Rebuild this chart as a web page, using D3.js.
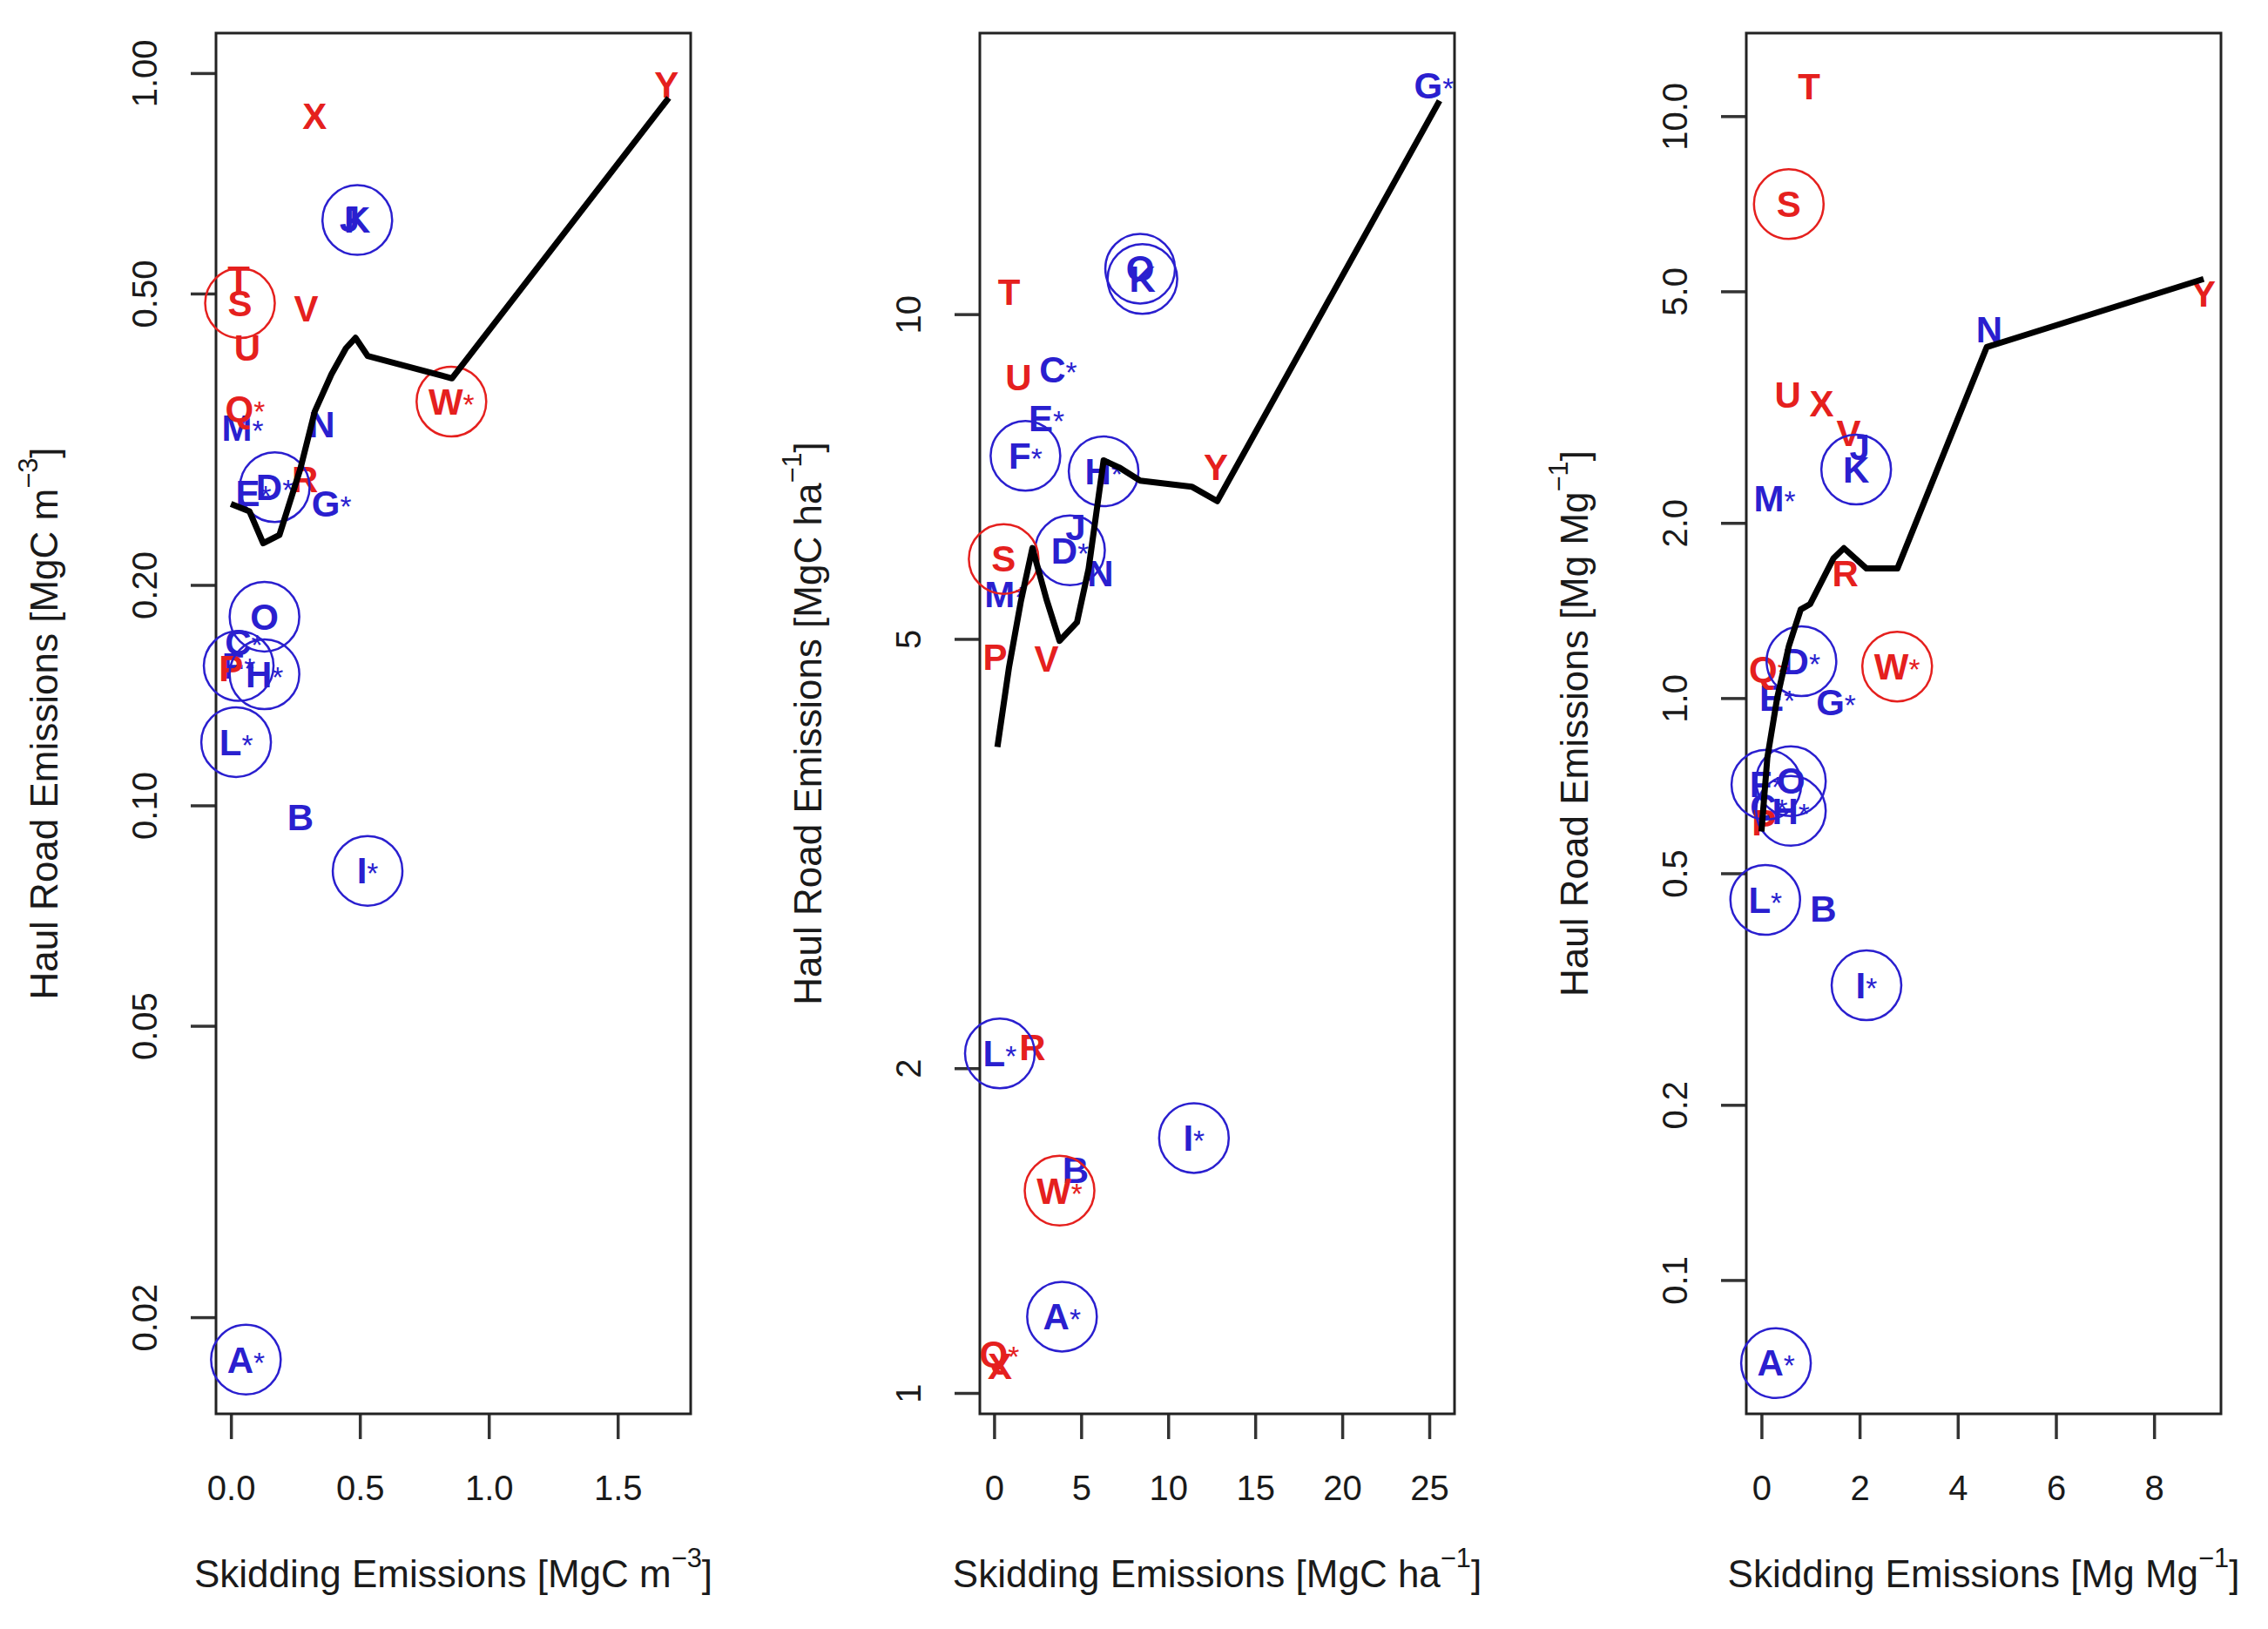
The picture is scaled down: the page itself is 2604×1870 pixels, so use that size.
<!DOCTYPE html>
<html>
<head>
<meta charset="utf-8">
<script src="https://cdn.jsdelivr.net/npm/d3@7"></script>
<style>
  body { margin: 0; background: #fff; }
  text { font-family: "Liberation Sans", Arial, Helvetica, sans-serif; }
</style>
</head>
<body>
<div id="chart"></div>
<script>
// sites, A-O blue, P-Y red
var sites = ["A","B","C","D","E","F","G","H","I","J","K","L","M","N","O","P","Q","R","S","T","U","V","W","X","Y"];
var starred = ["A","C","D","E","F","G","H","I","L","M","Q","W"];
var circled = ["A","D","F","H","I","K","L","O","S","W"];
var redSites = ["P","Q","R","S","T","U","V","W","X","Y"];

// panel 1: per m3
var x1 = [0.058,0.269,0.05,0.17,0.087,0.03,0.39,0.13,0.53,0.46,0.49,0.02,0.045,0.352,0.13,0.0,0.055,0.287,0.035,0.03,0.063,0.292,0.855,0.325,1.689];
var y1 = [0.0175,0.0963,0.167,0.272,0.267,0.155,0.258,0.151,0.0814,0.632,0.630,0.122,0.328,0.331,0.181,0.154,0.348,0.279,0.485,0.523,0.421,0.477,0.356,0.873,0.964];
var lineX1 = [0.0,0.072,0.125,0.188,0.269,0.325,0.39,0.446,0.483,0.53,0.857,1.698];
var lineY1 = [0.258,0.252,0.228,0.234,0.288,0.345,0.388,0.421,0.435,0.411,0.383,0.925];

// panel 2: per ha
var x2 = [3.90,4.68,3.68,4.36,3.01,1.80,25.27,6.29,11.48,4.68,8.52,0.33,0.65,6.10,8.39,0.06,0.3,2.20,0.55,0.86,1.40,3.01,3.76,0.33,12.74];
var y2 = [1.177,1.61,8.89,6.04,8.0,7.39,16.3,7.15,1.723,6.35,10.78,2.064,5.50,5.75,11.02,4.81,1.086,2.09,5.93,10.48,8.74,4.79,1.54,1.059,7.21];
var lineX2 = [0.19,0.86,1.53,2.20,3.01,3.76,4.76,5.43,6.29,7.18,8.39,11.35,12.82,25.59];
var lineY2 = [3.97,4.71,5.41,6.07,5.44,4.98,5.18,5.81,7.32,7.21,7.01,6.92,6.71,15.77];

// panel 3: per Mg
var x3 = [0.296,1.258,0.15,0.815,0.32,0.1,1.52,0.6,2.14,2.0,1.93,0.077,0.268,4.64,0.6,0.05,0.15,1.71,0.557,0.969,0.537,1.775,2.765,1.228,9.01];
var y3 = [0.0720,0.434,0.65,1.157,1.0,0.71,0.982,0.64,0.321,2.70,2.47,0.450,2.20,4.30,0.72,0.61,1.121,1.64,7.06,11.23,3.32,2.85,1.133,3.21,4.95];
var lineX3 = [0.0,0.12,0.32,0.56,0.8,0.99,1.47,1.68,2.14,2.77,4.59,9.01];
var lineY3 = [0.59,0.79,1.0,1.23,1.42,1.45,1.74,1.81,1.67,1.67,4.01,5.25];

var xTicks1 = [0, 0.5, 1, 1.5];
var yTicks1 = [0.02, 0.05, 0.1, 0.2, 0.5, 1];
var xTicks2 = [0, 5, 10, 15, 20, 25];
var yTicks2 = [1, 2, 5, 10];
var xTicks3 = [0, 2, 4, 6, 8];
var yTicks3 = [0.1, 0.2, 0.5, 1, 2, 5, 10];

var width = 2604, height = 1870;
var plotTop = 38, plotBottom = 1623, boxW = 545;
var red = "#e5201e", blue = "#2a1fcf";

var panels = [
    { left: 248, xs: x1, ys: y1, lx: lineX1, ly: lineY1, xd: [-0.058, 1.783], yd: [0.01476, 1.134],
      xt: xTicks1, yt: yTicks1, xf: d3.format(".1f"), yf: d3.format(".2f"), unit: ["MgC m", "\u22123"] },
    { left: 1125, xs: x2, ys: y2, lx: lineX2, ly: lineY2, xd: [-0.82, 26.45], yd: [0.9564, 18.22],
      xt: xTicks2, yt: yTicks2, xf: d3.format("d"), yf: d3.format("d"), unit: ["MgC ha", "\u22121"] },
    { left: 2005, xs: x3, ys: y3, lx: lineX3, ly: lineY3, xd: [-0.309, 9.363], yd: [0.0589, 13.89],
      xt: xTicks3, yt: yTicks3, xf: d3.format("d"), yf: d3.format(".1f"), unit: ["Mg Mg", "\u22121"] }
];

var svg = d3.select("#chart").append("svg")
    .attr("width", width)
    .attr("height", height);

svg.append("rect").attr("width", width).attr("height", height).attr("fill", "white");

function addTitle(sel, main, unit) {
    sel.append("tspan").text(main + " [" + unit[0]);
    sel.append("tspan").attr("font-size", "70%").attr("dy", "-0.75em").text(unit[1]);
    sel.append("tspan").attr("dy", "0.52em").text("]");
}

panels.forEach(function (p) {
    var x = d3.scaleLinear().domain(p.xd).range([p.left, p.left + boxW]);
    var y = d3.scaleLog().domain(p.yd).range([plotBottom, plotTop]);

    var g = svg.append("g");

    // axes
    var ax = g.append("g")
        .attr("transform", "translate(0," + plotBottom + ")")
        .call(d3.axisBottom(x).tickValues(p.xt).tickFormat(p.xf).tickSize(29));
    var ay = g.append("g")
        .attr("transform", "translate(" + p.left + ",0)")
        .call(d3.axisLeft(y).tickValues(p.yt).tickFormat(p.yf).tickSize(29));
    [ax, ay].forEach(function (a) {
        a.select(".domain").remove();
        a.selectAll("line").attr("stroke", "#333").attr("stroke-width", 3.5);
        a.selectAll("text").attr("font-size", 40).attr("fill", "#1a1a1a")
            .attr("font-family", "'Liberation Sans', Arial, sans-serif");
    });
    ax.selectAll("text").attr("dy", "0.35em").attr("y", 85);
    ay.selectAll("text")
        .attr("x", null).attr("dy", "0.35em")
        .attr("text-anchor", "middle")
        .attr("transform", "translate(-82,0) rotate(-90)");

    // box
    g.append("rect")
        .attr("x", p.left).attr("y", plotTop)
        .attr("width", boxW).attr("height", plotBottom - plotTop)
        .attr("fill", "none").attr("stroke", "#222").attr("stroke-width", 3);

    // axis titles
    var xt = g.append("text")
        .attr("x", p.left + boxW / 2).attr("y", plotBottom + 184)
        .attr("dy", "0.35em").attr("text-anchor", "middle")
        .attr("font-size", 44).attr("fill", "#1a1a1a");
    addTitle(xt, "Skidding Emissions", p.unit);
    var yt = g.append("text")
        .attr("transform", "translate(" + (p.left - 197) + "," + ((plotTop + plotBottom) / 2) + ") rotate(-90)")
        .attr("dy", "0.35em").attr("text-anchor", "middle")
        .attr("font-size", 44).attr("fill", "#1a1a1a");
    addTitle(yt, "Haul Road Emissions", p.unit);

    var pts = sites.map(function (s, i) {
        return { site: s, x: p.xs[i], y: p.ys[i] };
    });
    var col = function (d) { return redSites.indexOf(d.site) >= 0 ? red : blue; };

    var labs = g.selectAll(".lab").data(pts).enter().append("text")
        .attr("class", "lab")
        .attr("x", function (d) { return x(d.x); })
        .attr("y", function (d) { return y(d.y); })
        .attr("dy", "0.35em")
        .attr("text-anchor", "middle")
        .attr("font-size", 42)
        .attr("font-weight", "bold")
        .attr("fill", col);
    labs.append("tspan").text(function (d) { return d.site; });
    labs.filter(function (d) { return starred.indexOf(d.site) >= 0; })
        .append("tspan")
        .attr("font-size", "80%")
        .attr("font-weight", "normal")
        .text("*");

    g.selectAll(".ring").data(pts.filter(function (d) { return circled.indexOf(d.site) >= 0; }))
        .enter().append("circle")
        .attr("class", "ring")
        .attr("cx", function (d) { return x(d.x); })
        .attr("cy", function (d) { return y(d.y); })
        .attr("r", 40)
        .attr("fill", "none")
        .attr("stroke", col)
        .attr("stroke-width", 2.5);

    var line = d3.line()
        .x(function (d) { return x(d[0]); })
        .y(function (d) { return y(d[1]); });
    g.append("path")
        .datum(p.lx.map(function (v, i) { return [v, p.ly[i]]; }))
        .attr("d", line)
        .attr("fill", "none")
        .attr("stroke", "black")
        .attr("stroke-width", 7)
        .attr("stroke-linejoin", "round");
});
</script>
</body>
</html>
